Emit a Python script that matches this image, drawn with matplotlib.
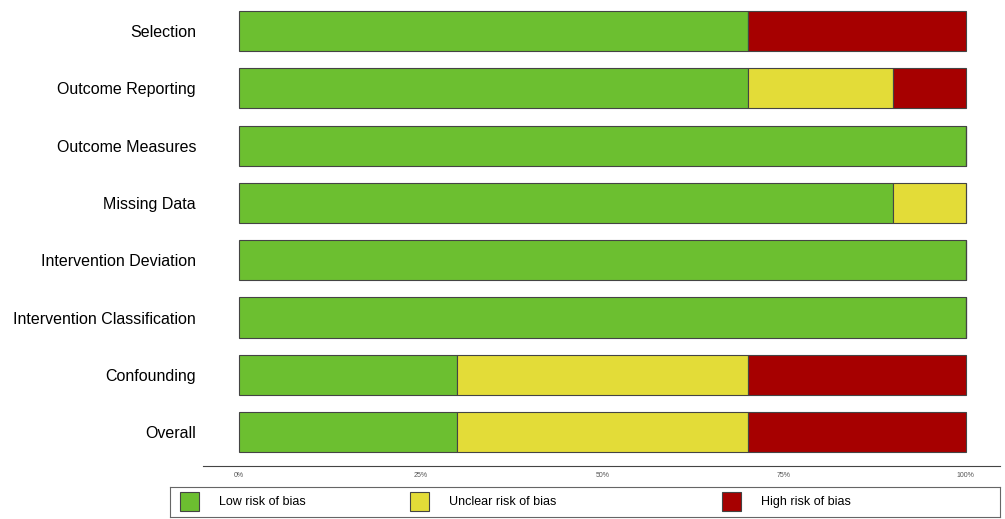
import matplotlib
matplotlib.use("Agg")
import matplotlib.pyplot as plt
from matplotlib.patches import Rectangle
import numpy as np

plt.rcParams['font.family'] = ['Liberation Sans', 'DejaVu Sans']

domains = ["Selection", "Outcome Reporting", "Outcome Measures", "Missing Data",
           "Intervention Deviation", "Intervention Classification", "Confounding", "Overall"]
low = [70, 70, 100, 90, 100, 100, 30, 30]
unclear = [0, 20, 0, 10, 0, 0, 40, 40]
high = [30, 10, 0, 0, 0, 0, 30, 30]
labels = ["Low risk of bias", "Unclear risk of bias", "High risk of bias"]
colors = ["#6cbf30", "#e3dc38", "#a60000"]
ticks = [0, 25, 50, 75, 100]

fig = plt.figure(figsize=(10.05, 5.19), dpi=100)
ax = fig.add_axes([203/1005, 1 - 466/519, 797/1005, 466/519])

y = np.arange(len(domains))
left = np.zeros(len(domains))
for vals, col in zip([low, unclear, high], colors):
    vals = np.array(vals, dtype=float)
    ax.barh(y, vals, left=left, height=0.7, color=col, edgecolor="#444444", linewidth=0.8)
    left += vals

ax.set_xlim(-4.95, 104.7)
ax.set_ylim(7.59, -0.54)
ax.set_yticks(y)
ax.set_yticklabels(domains, fontsize=11.5)
ax.tick_params(axis='y', length=0, pad=5)
ax.set_xticks(ticks)
ax.set_xticklabels([f"{t}%" for t in ticks], fontsize=5, color="#555555")
ax.tick_params(axis='x', length=0, pad=4)
for s in ["top", "right", "left"]:
    ax.spines[s].set_visible(False)
ax.spines["bottom"].set_color("#444444")
ax.spines["bottom"].set_linewidth(0.8)

# legend box
lax = fig.add_axes([170/1005, 1 - 517/519, 830/1005, 30/519])
lax.set_xlim(170, 1000)
lax.set_ylim(0, 30)
lax.set_xticks([])
lax.set_yticks([])
for s in lax.spines.values():
    s.set_color("#666666")
    s.set_linewidth(0.8)
handle_x = [180, 410, 722]
for hx, lab, col in zip(handle_x, labels, colors):
    lax.add_patch(Rectangle((hx, 6), 19, 19, facecolor=col, edgecolor="#444444", linewidth=0.8))
    lax.text(hx + 39, 15, lab, fontsize=9, va="center", ha="left")

fig.savefig("out.png", dpi=100)
